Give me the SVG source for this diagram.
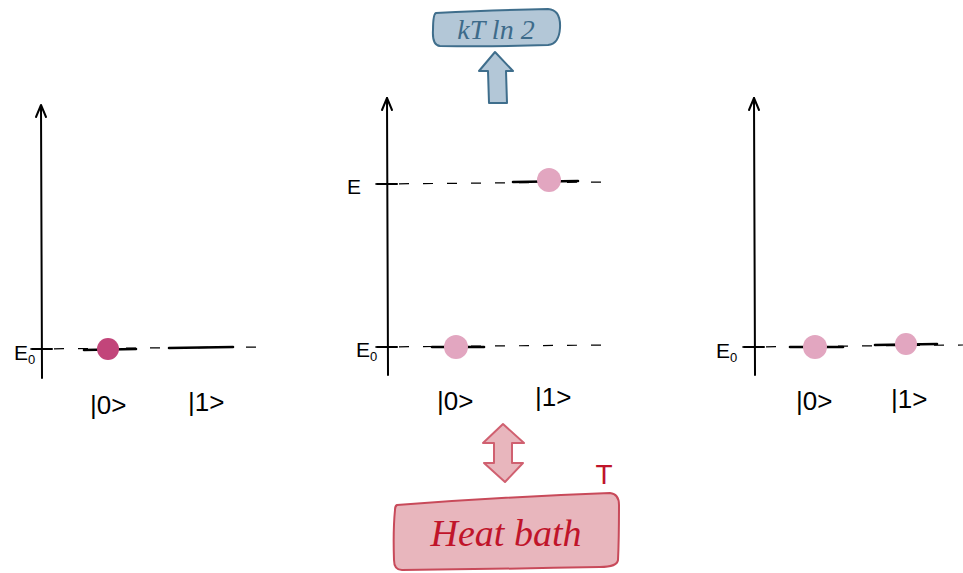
<svg xmlns="http://www.w3.org/2000/svg" width="963" height="573" viewBox="0 0 963 573">
<defs>
<style>
.axis{fill:none;stroke:#000;stroke-width:2;stroke-linecap:round;stroke-linejoin:round}
.dash{fill:none;stroke:#000;stroke-width:1.2;stroke-dasharray:10 14}
.lvl{fill:none;stroke:#000;stroke-width:2.6;stroke-linecap:round}
.lab{font-family:"Liberation Sans","DejaVu Sans",sans-serif;font-size:26px;fill:#000}
.elab{font-family:"Liberation Sans","DejaVu Sans",sans-serif;font-size:21px;fill:#000}
.sub{font-size:13px}
.dot{fill:#e2a6c0}
.dotS{fill:#c2457a}
</style>
</defs>
<rect width="963" height="573" fill="#fff"/>
<g id="connectors">
<line class="axis" x1="42" y1="378" x2="41" y2="106"/>
<path class="axis" d="M36,117 L41,105 L46,117"/>
<line class="axis" x1="388" y1="375" x2="387" y2="98"/>
<path class="axis" d="M382,110 L387,98 L392,110"/>
<line class="axis" x1="755" y1="375" x2="754" y2="98"/>
<path class="axis" d="M749,110 L754,98 L759,110"/>
<line class="dash" x1="30" y1="349" x2="262" y2="347"/>
<line class="dash" x1="375" y1="184" x2="608" y2="182"/>
<line class="dash" x1="375" y1="347" x2="608" y2="345"/>
<line class="dash" x1="742" y1="347" x2="963" y2="345"/>
<line class="axis" x1="32" y1="349" x2="52" y2="349"/>
<line class="axis" x1="377" y1="184" x2="397" y2="184"/>
<line class="axis" x1="377" y1="347" x2="397" y2="347"/>
<line class="axis" x1="744" y1="347" x2="764" y2="347"/>
</g>
<g id="panel1">
<text class="elab" x="14" y="360">E<tspan class="sub" dy="4">0</tspan></text>
<line class="lvl" x1="84" y1="350" x2="136" y2="349"/>
<line class="lvl" x1="169" y1="348" x2="233" y2="347"/>
<circle class="dotS" cx="108" cy="349" r="11"/>
<text class="lab" x="90" y="414">|0&gt;</text>
<text class="lab" x="188" y="411">|1&gt;</text>
</g>
<g id="panel2">
<text class="elab" x="347" y="194">E</text>
<text class="elab" x="356" y="357">E<tspan class="sub" dy="4">0</tspan></text>
<line class="lvl" x1="513" y1="182" x2="578" y2="181"/>
<line class="lvl" x1="432" y1="347" x2="484" y2="347"/>
<circle class="dot" cx="549" cy="180" r="12"/>
<circle class="dot" cx="456" cy="347" r="12"/>
<text class="lab" x="437" y="410">|0&gt;</text>
<text class="lab" x="535" y="406">|1&gt;</text>
</g>
<g id="panel3">
<text class="elab" x="716" y="358">E<tspan class="sub" dy="4">0</tspan></text>
<line class="lvl" x1="790" y1="347" x2="843" y2="347"/>
<line class="lvl" x1="875" y1="345" x2="937" y2="344"/>
<circle class="dot" cx="815" cy="347" r="12"/>
<circle class="dot" cx="906" cy="344" r="11"/>
<text class="lab" x="796" y="410">|0&gt;</text>
<text class="lab" x="891" y="408">|1&gt;</text>
</g>
<g id="ktln2">
<path d="M436,13 Q500,10 548,9 Q561,10 560,28 Q559,44 548,45 Q490,47 440,46 Q432,45 433,30 Q433,14 436,13 Z" fill="#b3c7d7" stroke="#3f6e8c" stroke-width="2"/>
<text x="496" y="39" text-anchor="middle" font-family="Liberation Serif, serif" font-style="italic" font-size="28" fill="#3d6b8a">kT ln 2</text>
</g>
<g id="upArrow">
<path d="M495,52 L513,71 L506,71 L507,103 L489,103 L488,71 L479,71 Z" fill="#b3c7d7" stroke="#3f6e8c" stroke-width="2" stroke-linejoin="round"/>
</g>
<g id="dblArrow">
<path d="M503,424 L524,443 L512,443 L512,463 L523,463 L505,482 L484,463 L494,463 L494,443 L483,443 Z" fill="#e8b6bd" stroke="#d06070" stroke-width="2" stroke-linejoin="round"/>
</g>
<g id="heatBath">
<path d="M397,505 Q500,497 610,493 Q619,494 619,505 Q619,540 618,560 Q617,567 600,567 Q500,569 402,570 Q394,570 394,560 Q393,530 395,510 Q395,506 397,505 Z" fill="#e8b6bd" stroke="#c84a5a" stroke-width="2"/>
<text x="506" y="546" text-anchor="middle" font-family="Liberation Serif, serif" font-style="italic" font-size="38" fill="#c0142a">Heat bath</text>
<text x="604" y="484" text-anchor="middle" font-family="Liberation Sans, sans-serif" font-size="28" fill="#c0142a">T</text>
</g>
</svg>
